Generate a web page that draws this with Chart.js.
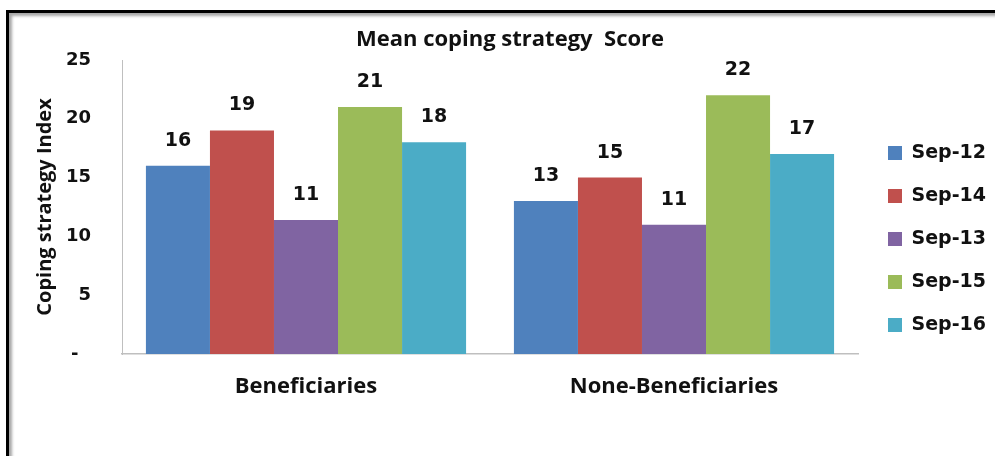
<!DOCTYPE html>
<html>
<head>
<meta charset="utf-8">
<script src="https://cdn.jsdelivr.net/npm/chart.js@4"></script>
<style>
  html, body { margin: 0; padding: 0; background: #fff; }
  #wrap { position: relative; width: 995px; height: 456px; overflow: hidden; }
  #frame { position: absolute; left: 6px; top: 10px; width: 1100px; height: 600px;
           border-left: 3px solid #000; border-top: 3px solid #000;
           box-shadow: inset 3px 3px 3px rgba(0,0,0,0.35); }
  #c { position: absolute; left: 0; top: 0; }
</style>
</head>
<body>
<div id="wrap">
  <div id="frame"></div>
  <canvas id="c" width="995" height="456"></canvas>
</div>
<script>
const categories = ['Beneficiaries', 'None-Beneficiaries'];
const seriesNames = ['Sep-12', 'Sep-14', 'Sep-13', 'Sep-15', 'Sep-16'];
const sep12 = [16, 13];
const sep14 = [19, 15];
const sep13 = [11.4, 11];
const sep15 = [21, 22];
const sep16 = [18, 17];
const yTicks = [0, 5, 10, 15, 20, 25];
const colors = ['#4F81BD', '#C0504D', '#8064A2', '#9BBB59', '#4BACC6'];

const seriesValues = [sep12, sep14, sep13, sep15, sep16];

Chart.defaults.font.family = 'Open Sans';
Chart.defaults.color = '#000';

const legendFix = {
  id: 'legendFix',
  beforeLayout(chart) {
    const lg = chart.legend;
    if (lg && !lg._fixed) {
      const f = lg.fit;
      lg.fit = function () { f.call(this); this.width = 137; };
      lg._fixed = true;
    }
  },
  afterLayout(chart) {
    const lg = chart.legend;
    if (lg) { lg.left += 6; lg.right += 6; lg.top += 4; lg.bottom += 4; }
  }
};

const dataLabels = {
  id: 'dataLabels',
  afterDatasetsDraw(chart) {
    const ctx = chart.ctx;
    ctx.save();
    ctx.font = 'bold 19px "DejaVu Sans"';
    ctx.fillStyle = '#111';
    ctx.textAlign = 'center';
    ctx.textBaseline = 'middle';
    chart.data.datasets.forEach((ds, i) => {
      chart.getDatasetMeta(i).data.forEach((el, j) => {
        ctx.fillText(String(Math.round(ds.data[j])), el.x, el.y - 25);
      });
    });
    ctx.restore();
  }
};

new Chart(document.getElementById('c'), {
  type: 'bar',
  data: {
    labels: categories,
    datasets: seriesNames.map((n, i) => ({
      label: n,
      data: seriesValues[i],
      backgroundColor: colors[i],
      borderWidth: 0,
      categoryPercentage: 0.87,
      barPercentage: 1.0
    }))
  },
  options: {
    responsive: false,
    animation: false,
    layout: { padding: { top: 14, left: 25, right: 0, bottom: 0 } },
    plugins: {
      title: {
        display: true,
        text: 'Mean coping strategy  Score',
        font: { family: 'Open Sans', weight: 'bold', size: 22 },
        color: '#111',
        padding: { top: 13, bottom: 6.6 }
      },
      legend: {
        position: 'right',
        labels: {
          font: { family: 'DejaVu Sans', weight: 'bold', size: 19 },
          color: '#111',
          boxWidth: 14,
          boxHeight: 14,
          padding: 24
        }
      },
      tooltip: { enabled: false }
    },
    scales: {
      x: {
        grid: { display: false, drawTicks: false },
        border: { display: true, color: '#BFBFBF', width: 1.5 },
        ticks: {
          font: { family: 'Open Sans', weight: 'bold', size: 22 },
          color: '#111',
          padding: 20
        },
        afterFit(scale) { scale.height = 102; }
      },
      y: {
        min: 0,
        max: 25,
        afterBuildTicks(scale) { scale.ticks = yTicks.map(v => ({ value: v })); },
        grid: { display: false, drawTicks: false },
        border: { display: true, color: '#BFBFBF', width: 1 },
        ticks: {
          font: { family: 'DejaVu Sans', weight: 'bold', size: 18 },
          color: '#111',
          padding: 31,
          callback: (v) => v === 0 ? '-\u2007' : String(v)
        },
        title: {
          display: true,
          text: 'Coping strategy Index',
          font: { family: 'Open Sans', weight: 'bold', size: 20 },
          color: '#111',
          padding: { top: 8, bottom: 0 }
        },
        afterFit(scale) { scale.width = 97; }
      }
    }
  },
  plugins: [legendFix, dataLabels]
});
</script>
</body>
</html>
